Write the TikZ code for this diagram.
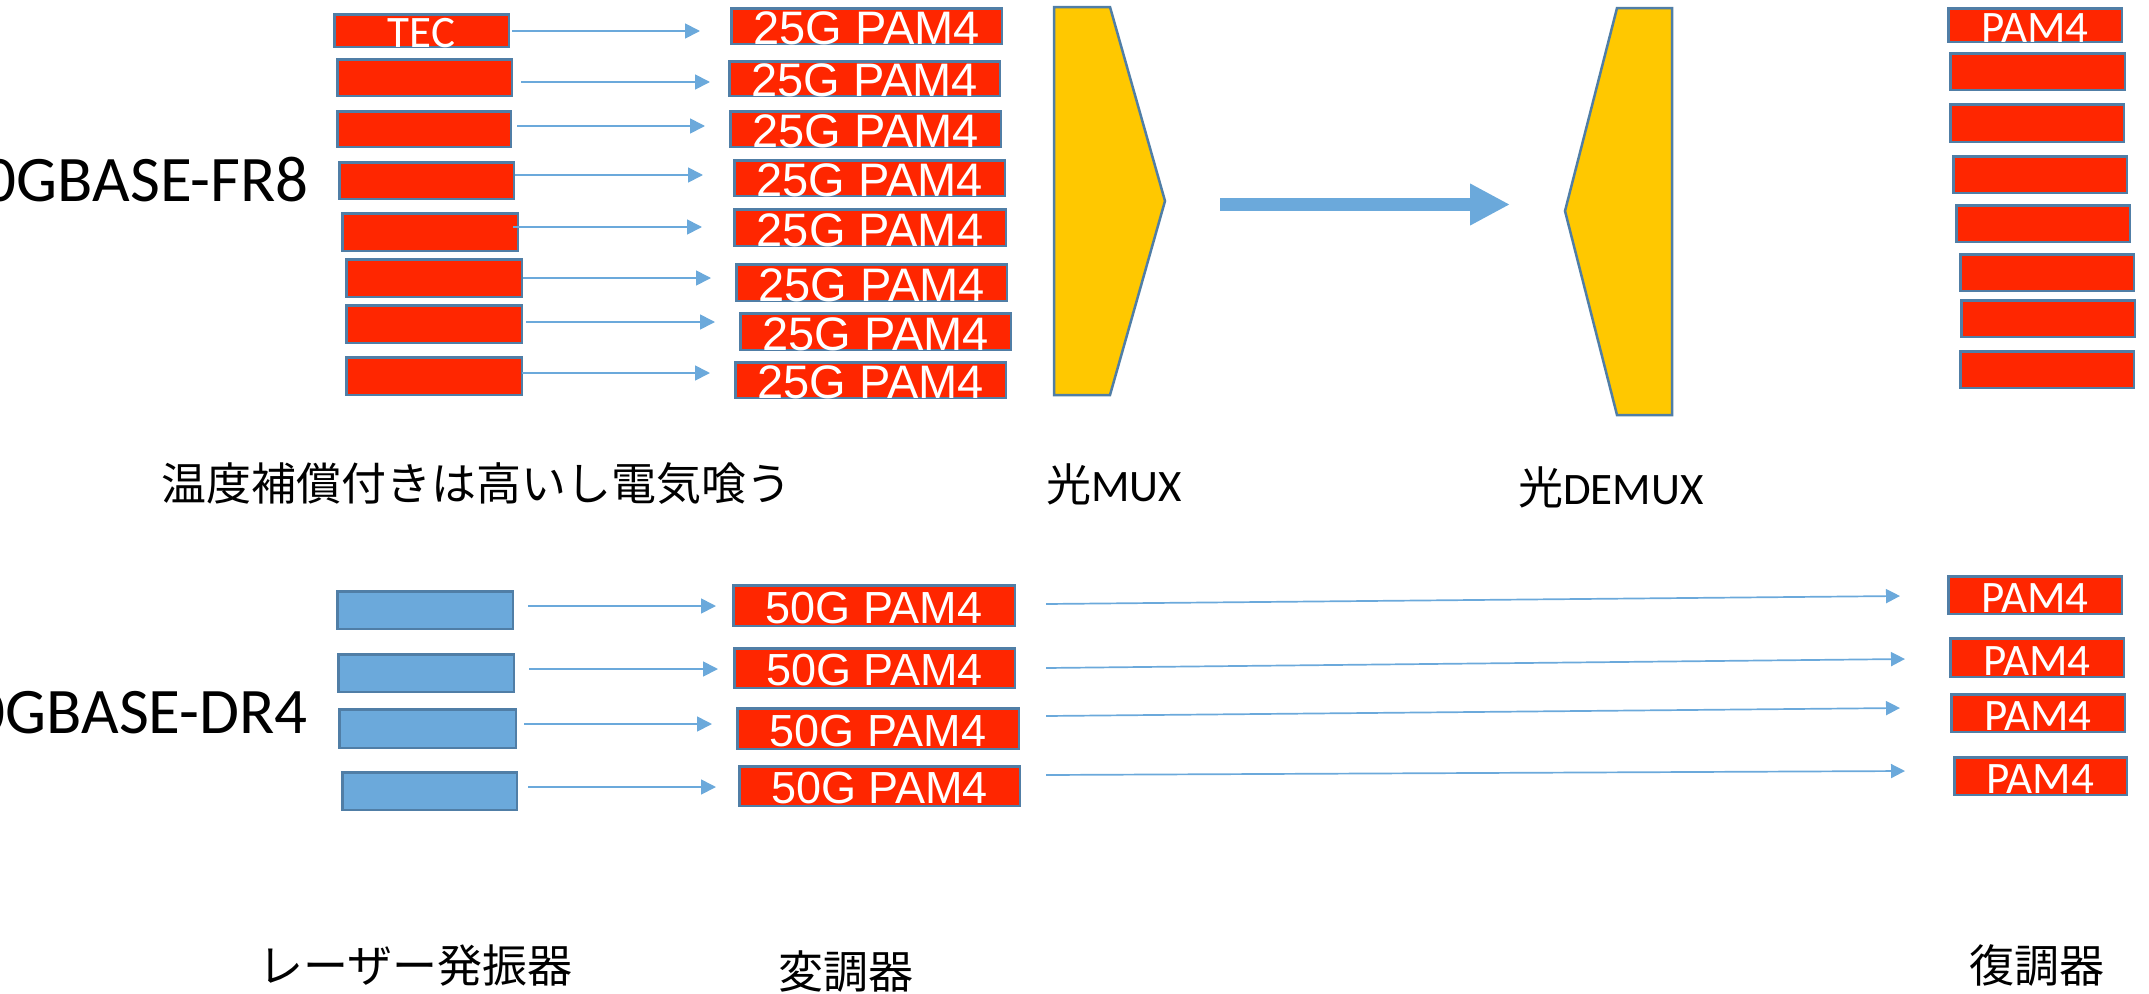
\documentclass[tikz,border=0pt]{standalone}
\usepackage{fontspec}
\newfontfamily\jpfont{Noto Sans CJK JP}
\newfontfamily\calfont{Carlito}
\newfontfamily\arifont{Liberation Sans}
\usetikzlibrary{arrows.meta}
\definecolor{boxred}{RGB}{255,38,0}
\definecolor{edgeblue}{RGB}{80,126,166}
\definecolor{arrblue}{RGB}{107,169,219}
\definecolor{muxyellow}{RGB}{255,200,0}
\definecolor{laserblue}{RGB}{107,169,219}
\tikzset{
  box/.style={draw=edgeblue, line width=2.5pt, inner sep=0pt, outer sep=0pt},
  redbox/.style={box, fill=boxred},
  bluebox/.style={box, fill=laserblue},
  thinarr/.style={draw=arrblue, line width=1.7pt, -{Triangle[length=15pt,width=15pt]}},
  longarr/.style={draw=arrblue, line width=1.7pt, -{Triangle[length=14pt,width=14pt]}},
  bigarr/.style={draw=arrblue, line width=13pt, -{Triangle[length=40pt,width=39pt]}},
  muxshape/.style={draw=edgeblue, line width=2.5pt, fill=muxyellow, line join=miter},
  gtext/.style={text=white, anchor=base, inner sep=0pt, font=\arifont\fontsize{47}{50}\selectfont},
  gtextb/.style={text=white, anchor=base, inner sep=0pt, font=\arifont\fontsize{45}{50}\selectfont},
  ptext/.style={text=white, anchor=base, inner sep=0pt, font=\calfont\fontsize{45}{50}\selectfont},
  biglabel/.style={anchor=base east, inner sep=0pt, font=\calfont\fontsize{65}{78}\selectfont},
  jplabel/.style={anchor=base west, inner sep=0pt, font=\jpfont\fontsize{45}{54}\selectfont},
}
\newcommand{\mkbox}[6]{\node[#1, minimum width={(#4-#2-2.5)*1pt}, minimum height={(#5-#3-2.5)*1pt}] (#6) at ({(#2+#4)/2},{(#3+#5)/2}) {};}
\begin{document}
\begin{tikzpicture}[x=1pt, y=-1pt]
\useasboundingbox (0,0) rectangle (2149,993);
\clip (0,0) rectangle (2149,993);

% ---------- FR8 ----------
\node[biglabel] (fr8) at (309,201) {400GBASE-FR8};

% laser (left) column
\mkbox{redbox}{333}{13}{510}{48}{L1}
\mkbox{redbox}{336}{58}{513}{97}{L2}
\mkbox{redbox}{336}{110}{512}{148}{L3}
\mkbox{redbox}{338}{161}{515}{200}{L4}
\mkbox{redbox}{341}{212}{519}{252}{L5}
\mkbox{redbox}{345}{258}{523}{298}{L6}
\mkbox{redbox}{345}{304}{523}{344}{L7}
\mkbox{redbox}{345}{356}{523}{396}{L8}
\node[ptext] (tec) at ([yshift=-1pt]L1.south) {TEC};

% modulators 25G
\mkbox{redbox}{730}{7}{1003}{45}{M1}
\mkbox{redbox}{728}{60}{1001}{97}{M2}
\mkbox{redbox}{729}{110}{1002}{148}{M3}
\mkbox{redbox}{733}{159}{1006}{197}{M4}
\mkbox{redbox}{733}{208}{1007}{247}{M5}
\mkbox{redbox}{735}{263}{1008}{302}{M6}
\mkbox{redbox}{739}{312}{1012}{351}{M7}
\mkbox{redbox}{734}{361}{1007}{399}{M8}
\foreach \i in {1,...,8}{\node[gtext] (M\i t) at ([yshift=-1pt]M\i.south) {25G PAM4};}

% arrows laser -> modulator
\coordinate (a1s) at (512,31);  \coordinate (a1e) at (700,31);
\coordinate (a2s) at (521,82);  \coordinate (a2e) at (710,82);
\coordinate (a3s) at (517,126); \coordinate (a3e) at (705,126);
\coordinate (a4s) at (515,175); \coordinate (a4e) at (703,175);
\coordinate (a5s) at (513,227); \coordinate (a5e) at (702,227);
\coordinate (a6s) at (523,278); \coordinate (a6e) at (711,278);
\coordinate (a7s) at (526,322); \coordinate (a7e) at (715,322);
\coordinate (a8s) at (522,373); \coordinate (a8e) at (710,373);
\foreach \i in {1,...,8}{\draw[thinarr] (a\i s) -- (a\i e);}

% MUX
\draw[muxshape] (1054,7) -- (1110,7) -- (1165,201) -- (1110,395) -- (1054,395) -- cycle;
% big arrow
\coordinate (bigs) at (1220,204.5);
\coordinate (bige) at (1510,204.5);
\draw[bigarr] (bigs) -- (bige);
% DEMUX
\draw[muxshape] (1565,211) -- (1617,8) -- (1672,8) -- (1672,415) -- (1617,415) -- cycle;

% demodulators (right)
\mkbox{redbox}{1947}{7}{2123}{43}{R1}
\mkbox{redbox}{1949}{52}{2126}{91}{R2}
\mkbox{redbox}{1949}{103}{2125}{143}{R3}
\mkbox{redbox}{1952}{155}{2128}{194}{R4}
\mkbox{redbox}{1955}{204}{2131}{243}{R5}
\mkbox{redbox}{1959}{253}{2135}{292}{R6}
\mkbox{redbox}{1960}{299}{2136}{338}{R7}
\mkbox{redbox}{1959}{350}{2135}{389}{R8}
\node[ptext] (R1t) at ([yshift=-1pt]R1.south) {PAM4};

% mid labels
\node[jplabel] (temp) at (161,500) {温度補償付きは高いし電気喰う};
\node[jplabel] (mux) at (1046,501) {光{\calfont MUX}};
\node[jplabel] (demux) at (1518,504) {光{\calfont DEMUX}};

% ---------- DR4 ----------
\node[biglabel] (dr4) at (308,733) {400GBASE-DR4};

\mkbox{bluebox}{336}{590}{514}{630}{B1}
\mkbox{bluebox}{337}{653}{515}{693}{B2}
\mkbox{bluebox}{338}{708}{517}{749}{B3}
\mkbox{bluebox}{341}{771}{518}{811}{B4}

\mkbox{redbox}{732}{584}{1016}{627}{N1}
\mkbox{redbox}{733}{647}{1016}{689}{N2}
\mkbox{redbox}{736}{707}{1020}{750}{N3}
\mkbox{redbox}{738}{765}{1021}{807}{N4}
\foreach \i in {1,...,4}{\node[gtextb] (N\i t) at ([yshift=2pt]N\i.south) {50G PAM4};}

\coordinate (b1s) at (528,606); \coordinate (b1e) at (716,606);
\coordinate (b2s) at (529,669); \coordinate (b2e) at (718,669);
\coordinate (b3s) at (524,724); \coordinate (b3e) at (712,724);
\coordinate (b4s) at (528,787); \coordinate (b4e) at (716,787);
\foreach \i in {1,...,4}{\draw[thinarr] (b\i s) -- (b\i e);}

\mkbox{redbox}{1947}{575}{2123}{615}{P1}
\mkbox{redbox}{1949}{637}{2125}{678}{P2}
\mkbox{redbox}{1950}{693}{2126}{733}{P3}
\mkbox{redbox}{1953}{756}{2128}{796}{P4}
\foreach \i in {1,...,4}{\node[ptext] (P\i t) at ([yshift=1pt]P\i.south) {PAM4};}

\coordinate (c1s) at (1046,604); \coordinate (c1e) at (1900,596);
\coordinate (c2s) at (1046,668); \coordinate (c2e) at (1905,659);
\coordinate (c3s) at (1046,716); \coordinate (c3e) at (1900,708);
\coordinate (c4s) at (1046,775); \coordinate (c4e) at (1905,771);
\foreach \i in {1,...,4}{\draw[longarr] (c\i s) -- (c\i e);}

% bottom labels
\node[jplabel] (laser) at (258,982) {レーザー発振器};
\node[jplabel] (mod) at (778,988) {変調器};
\node[jplabel] (demod) at (1969,982) {復調器};
\end{tikzpicture}
\end{document}
